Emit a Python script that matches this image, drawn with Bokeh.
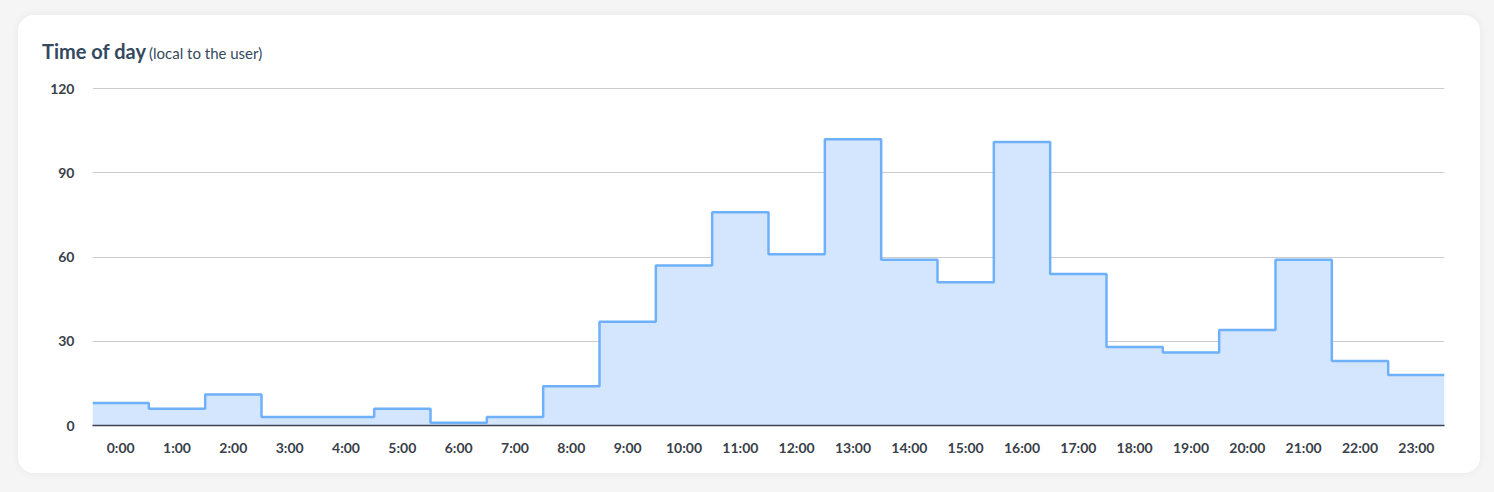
import numpy as np
from bokeh.plotting import figure
from bokeh.layouts import column
from bokeh.models import Div, FixedTicker
from bokeh.embed import file_html
from bokeh.resources import INLINE

hours = list(range(24))
hour_labels = [f"{h}:00" for h in hours]
counts = [8, 6, 11, 3, 3, 6, 1, 3, 14, 37, 57, 76, 61, 102, 59, 51, 101, 54, 28, 26, 34, 59, 23, 18]
y_ticks = [0, 30, 60, 90, 120]

edges = np.arange(len(hours) + 1) - 0.5
ys = counts + [counts[-1]]

p = figure(width=1462, height=400, output_backend="svg", toolbar_location=None,
           x_range=(-0.5, 23.5), y_range=(0, 120.4),
           min_border_left=74, min_border_right=36, min_border_top=14, min_border_bottom=48)
p.outline_line_color = None
p.background_fill_color = "white"
p.border_fill_color = "white"

p.varea_step(x=edges, y1=0, y2=ys, step_mode="after", fill_color="#d4e6fd", fill_alpha=1.0)
p.step(x=edges, y=ys, mode="after", line_color="#6eb0fa", line_width=2.5)

p.xaxis.ticker = FixedTicker(ticks=hours)
p.xaxis.major_label_overrides = {h: lbl for h, lbl in zip(hours, hour_labels)}
p.yaxis.ticker = FixedTicker(ticks=y_ticks)

p.xaxis.axis_line_color = "#3a4250"
p.xaxis.axis_line_width = 1.5
p.xaxis.major_tick_line_color = None
p.xaxis.minor_tick_line_color = None
p.yaxis.axis_line_color = None
p.yaxis.major_tick_line_color = None
p.yaxis.minor_tick_line_color = None
for ax in (p.xaxis, p.yaxis):
    ax.major_label_text_font = "Lato"
    ax.major_label_text_font_size = "14px"
    ax.major_label_text_font_style = "bold"
    ax.major_label_text_color = "#3a3f4a"
p.xaxis.major_label_standoff = 7
p.yaxis.major_label_standoff = 12

p.xgrid.grid_line_color = None
p.ygrid.grid_line_color = "#cccccc"
p.ygrid.grid_line_width = 1

title = Div(text='<div style="font-family:Lato;color:#34495e;white-space:nowrap;margin:22px 0 0 24px;">'
                 '<span style="font-size:20px;font-weight:bold;">Time of day</span> '
                 '<span style="font-size:15px;">(local to the user)</span></div>',
            width=1400, height=58, margin=(0, 0, 0, 0))

card = column(title, p, width=1462, height=458, spacing=0,
              styles={"background-color": "white", "border-radius": "16px",
                      "box-shadow": "0 0 8px rgba(0,0,0,0.06)",
                      "margin-left": "18px", "margin-top": "15px", "overflow": "hidden"})

html = file_html(card, INLINE)
html = html.replace("<body>", '<body style="background-color:#f5f5f5;">')
open("out.html", "w").write(html)
